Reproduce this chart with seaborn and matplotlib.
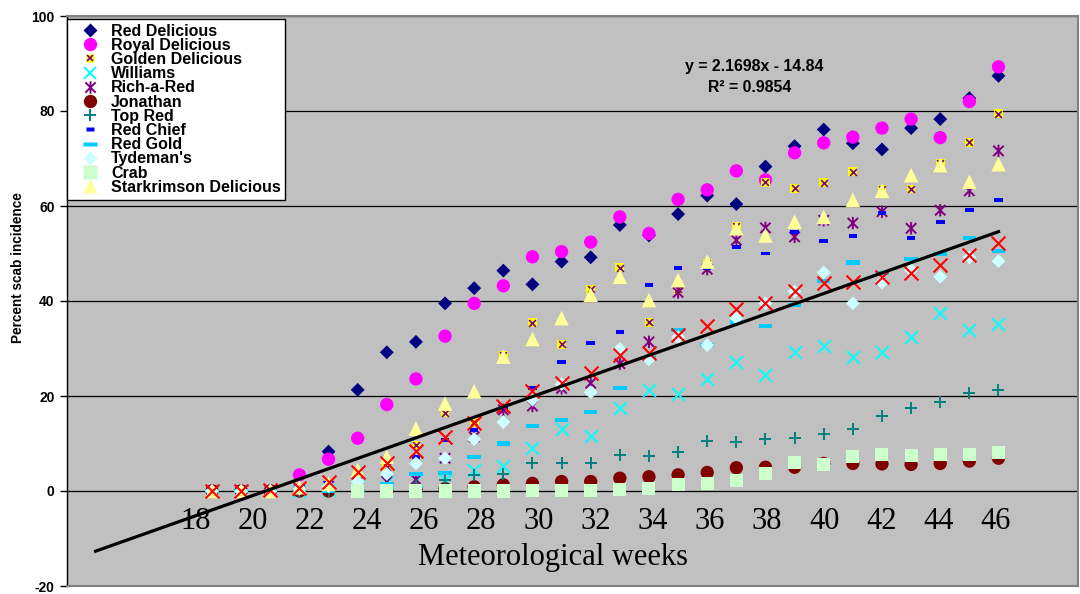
import numpy as np
import seaborn as sns
import matplotlib.pyplot as plt
from matplotlib.lines import Line2D
from matplotlib.path import Path

plt.rcParams['font.family'] = ['Liberation Sans', 'DejaVu Sans']

weeks = list(range(19, 47))
nan = np.nan

red_delicious = [0, 0, 0, 0.5, 8.3, 21.3, 29.2, 31.4, 39.5, 42.7, 46.4, 43.5, 48.3, 49.2,
                 56.0, 53.8, 58.3, 62.2, 60.4, 68.3, 72.6, 76.1, 73.2, 71.9, 76.4, 78.3, 82.7, 87.4]
royal_delicious = [0, 0, 0, 3.4, 6.7, 11.1, 18.2, 23.6, 32.6, 39.5, 43.2, 49.3, 50.4, 52.4,
                   57.7, 54.2, 61.4, 63.4, 67.4, 65.5, 71.2, 73.3, 74.5, 76.4, 78.3, 74.4, 82.0, 89.3]
golden_delicious = [0, 0, 0, 0.5, 1.5, 3.8, 5.0, 9.7, 16.4, 14.5, 28.6, 35.4, 30.9, 42.5,
                    47.0, 35.5, 42.5, 48.0, 55.7, 65.0, 63.7, 64.9, 67.2, 63.6, 63.6, 69.0, 73.4, 79.4]
williams = [0, 0, 0, 0, 0.3, 1.0, 2.0, 2.4, 2.3, 4.4, 5.3, 9.1, 13.0, 11.6,
            17.4, 21.3, 20.4, 23.5, 27.1, 24.4, 29.3, 30.5, 28.3, 29.3, 32.5, 37.5, 34.0, 35.2]
rich_a_red = [0, 0, 0, 0.3, 1.0, 2.0, 2.0, 2.4, 6.9, 11.4, 17.1, 17.9, 21.6, 22.7,
              26.8, 31.4, 41.8, 46.7, 52.8, 55.4, 53.5, 57.0, 56.4, 58.8, 55.3, 59.1, 63.2, 71.6]
jonathan = [0, 0, 0, 0, 0, 0, 0, 0.3, 0.5, 0.9, 1.3, 1.6, 2.0, 2.0,
            2.7, 3.0, 3.4, 3.9, 4.9, 5.0, 5.0, 5.8, 5.8, 5.7, 5.6, 5.8, 6.3, 6.9]
top_red = [0, 0, 0, 0, 0, 0.3, 0.5, 1.0, 2.3, 3.4, 3.6, 5.8, 6.0, 6.0,
           7.6, 7.4, 8.3, 10.5, 10.4, 10.9, 11.2, 11.9, 13.0, 15.8, 17.4, 18.7, 20.7, 21.3]
red_chief = [0, 0, 0, 1.0, 1.8, 2.5, 3.5, 7.2, 10.7, 12.9, 17.5, 21.6, 27.1, 31.1,
             33.4, 43.4, 46.9, 46.9, 51.4, 50.0, 54.6, 52.6, 53.7, 58.6, 53.2, 56.7, 59.2, 61.3]
red_gold = [0, 0, 0, 0, 0, 0.5, 1.5, 3.5, 3.7, 7.1, 10.0, 13.7, 14.9, 16.7,
            21.7, 28.0, 33.8, 30.7, 35.5, 34.8, 39.2, 44.3, 48.1, 45.8, 48.8, 49.8, 53.2, 50.6]
tydemans = [0, 0, 0, 0.5, 1.0, 2.0, 3.6, 5.8, 6.9, 10.9, 14.5, 19.2, 22.5, 20.8,
            29.9, 27.7, 32.4, 30.7, 36.4, 39.5, 42.0, 46.0, 39.5, 43.9, 46.5, 45.1, 49.2, 48.4]
crab = [nan, nan, nan, nan, nan, 0, 0, 0, 0, 0, 0, 0.2, 0.2, 0.2,
        0.3, 0.6, 1.3, 1.6, 2.3, 3.7, 5.9, 5.5, 7.2, 7.6, 7.4, 7.6, 7.6, 8.2]
starkrimson = [0, 0, 0, 0.8, 1.5, 4.4, 7.2, 13.1, 18.4, 21.0, 28.3, 32.0, 36.4, 41.3,
               45.1, 40.2, 44.4, 48.3, 55.3, 53.8, 56.7, 57.7, 61.3, 63.2, 66.5, 68.6, 65.1, 68.8]
average = [0, 0, 0.2, 0.6, 1.9, 4.0, 5.8, 8.4, 11.4, 14.4, 17.8, 21.0, 22.8, 24.8,
           28.6, 29.0, 32.9, 34.7, 38.3, 39.6, 42.1, 43.8, 44.1, 45.0, 46.0, 47.6, 49.7, 52.3]

# linear trend shown on the chart, x = 1 at week 15
trend_slope = 2.1698
trend_intercept = -14.84
trend_start_week = 15
tick_weeks = list(range(18, 47, 2))

# custom marker shapes
star = Path([(-1, -1), (1, 1), (-1, 1), (1, -1), (0, -1.2), (0, 1.2)],
            [Path.MOVETO, Path.LINETO, Path.MOVETO, Path.LINETO, Path.MOVETO, Path.LINETO])
short_dash = [(-1, -0.45), (1, -0.45), (1, 0.45), (-1, 0.45)]
long_dash = [(-1, -0.3), (1, -0.3), (1, 0.3), (-1, 0.3)]

# label, values, marker, colour, size, style ('fill', 'line' or 'path')
series = [
    ('Red Delicious', red_delicious, 'D', '#000080', 50, 'fill'),
    ('Royal Delicious', royal_delicious, 'o', '#FF00FF', 92, 'fill'),
    ('Golden Delicious', golden_delicious, 's', '#FFFF00', 40, 'fill'),
    ('Williams', williams, 'x', '#00FFFF', 85, 'line'),
    ('Rich-a-Red', rich_a_red, star, '#800080', 80, 'path'),
    ('Jonathan', jonathan, 'o', '#800000', 92, 'fill'),
    ('Top Red', top_red, '+', '#008080', 85, 'line'),
    ('Red Chief', red_chief, short_dash, '#0000FF', 38, 'fill'),
    ('Red Gold', red_gold, long_dash, '#00CCFF', 95, 'fill'),
    ("Tydeman's", tydemans, 'D', '#CCFFFF', 50, 'fill'),
    ('Crab', crab, 's', '#CCFFCC', 88, 'fill'),
    ('Starkrimson Delicious', starkrimson, '^', '#FFFF99', 110, 'fill'),
]

fig = plt.figure(figsize=(10.8, 5.94), dpi=100)
ax = fig.add_axes([67 / 1080, 8 / 594, 1011 / 1080, 570 / 594])
ax.set_facecolor('#C0C0C0')

handles = []
for i, (label, vals, mk, col, size, style) in enumerate(series):
    z = 3 + i * 0.1
    if style == 'fill':
        sns.scatterplot(x=weeks, y=vals, marker=mk, color=col, s=size,
                        edgecolor='none', linewidth=0, ax=ax, zorder=z)
        h = Line2D([], [], ls='none', marker=mk, ms=np.sqrt(size), mfc=col, mec='none')
    elif style == 'line':
        sns.scatterplot(x=weeks, y=vals, marker=mk, color=col, s=size,
                        linewidth=1.4, ax=ax, zorder=z)
        h = Line2D([], [], ls='none', marker=mk, ms=np.sqrt(size), mec=col, mew=1.4)
    else:
        sns.scatterplot(x=weeks, y=vals, marker=mk, s=size, facecolor='none',
                        edgecolor=col, linewidth=1.4, ax=ax, zorder=z)
        h = Line2D([], [], ls='none', marker=mk, ms=np.sqrt(size), mfc='none',
                   mec=col, mew=1.4)
    if label == 'Golden Delicious':
        sns.scatterplot(x=weeks, y=vals, marker='x', color='#800080', s=24,
                        linewidth=1.2, ax=ax, zorder=3.25)
        h = (h, Line2D([], [], ls='none', marker='x', ms=np.sqrt(24), mec='#800080', mew=1.2))
    handles.append(h)

# average of all cultivars (red crosses), not in legend
sns.scatterplot(x=weeks, y=average, marker='x', color='#FF0000', s=100,
                linewidth=1.5, ax=ax, zorder=5)

trend_weeks = np.arange(trend_start_week, 47)
trend_vals = trend_slope * (trend_weeks - trend_start_week + 1) + trend_intercept
sns.lineplot(x=trend_weeks, y=trend_vals, color='black', linewidth=2.3, ax=ax, zorder=10)

ax.text(37.6, 89.3, 'y = 2.1698x - 14.84', ha='center', va='center',
        fontsize=11.4, fontweight='bold')
ax.text(37.45, 85.0, 'R² = 0.9854', ha='center', va='center',
        fontsize=11.4, fontweight='bold')

# week labels sit inside the plot area
for w in tick_weeks:
    ax.text(18.43 + (w - 18) * 0.981, -6.5, str(w), ha='center', va='center',
            fontsize=22, family='Liberation Serif')
ax.text(30.7, -13.9, 'Meteorological weeks', ha='center', va='center',
        fontsize=22, family='Liberation Serif')

ax.set_xlim(14.02, 48.73)
ax.set_ylim(-20, 100)
ax.set_xticks([])
ax.set_yticks(range(-20, 101, 20))
ax.set_yticklabels([str(v) for v in range(-20, 101, 20)], fontsize=10, fontweight='bold')
ax.tick_params(axis='y', length=5, width=1, color='black', pad=4)
ax.grid(axis='y', color='black', linewidth=0.9)
ax.set_axisbelow(True)
for side in ['top', 'bottom', 'right']:
    ax.spines[side].set_color('#808080')
    ax.spines[side].set_linewidth(1.5)
ax.spines['left'].set_color('black')
ax.spines['left'].set_linewidth(1)
ax.set_xlabel('')
ax.set_ylabel('Percent scab incidence', fontsize=9.8, fontweight='bold')
ax.yaxis.set_label_coords(-0.0415, 0.558)

leg = ax.legend(handles, [s[0] for s in series], loc='upper left',
                bbox_to_anchor=(0.0, 0.995), borderaxespad=0, frameon=True,
                fancybox=False, framealpha=1, edgecolor='black',
                prop={'size': 11.5, 'weight': 'bold'}, labelspacing=-0.05,
                handlelength=2.3, handletextpad=0.15, borderpad=0.3)
leg.get_frame().set_linewidth(1)
leg.set_zorder(20)

fig.savefig('out.png', dpi=100)
